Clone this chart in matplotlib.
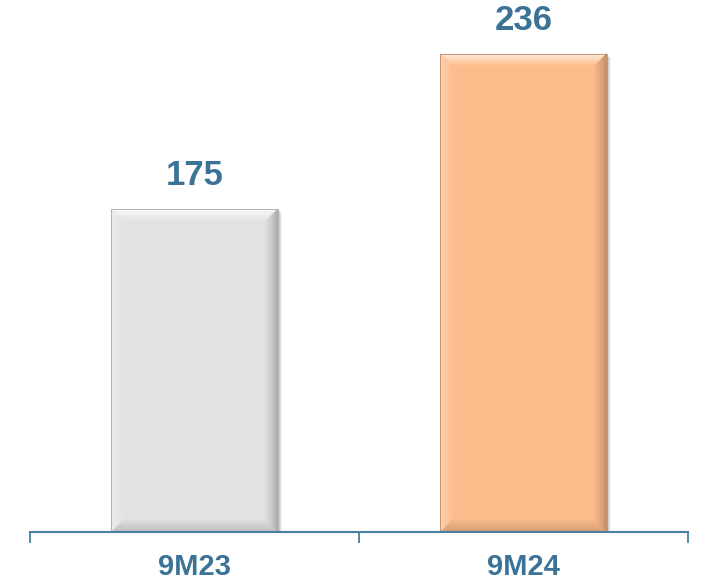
import matplotlib
matplotlib.use("Agg")
import matplotlib.pyplot as plt
from matplotlib.patches import Polygon
import matplotlib.colors as mcolors
import numpy as np

categories = ["9M23", "9M24"]
values = [175, 236]
bar_colors = ["#E3E3E3", "#FDBC8B"]

text_color = "#3B7396"
axis_color = "#4A7FA3"

plt.rcParams['font.family'] = ['Liberation Sans', 'DejaVu Sans']

fig = plt.figure(figsize=(7.08, 5.83), dpi=100)
ax = fig.add_axes([30/708, 51/583, 658/708, 1 - 51/583])
x = np.arange(len(categories))
bars = ax.bar(x, values, width=0.505, color=bar_colors, zorder=2)
ax.set_xlim(-0.5, 1.5)
ax.set_ylim(48.4, 257)

for s in ["top", "left", "right"]:
    ax.spines[s].set_visible(False)
ax.spines["bottom"].set_color(axis_color)
ax.spines["bottom"].set_linewidth(1.5)
ax.spines["bottom"].set_zorder(5)
ax.set_yticks([])
ax.set_xticks([-0.5, 0.5, 1.5])
ax.set_xticklabels([])
ax.tick_params(axis="x", direction="out", length=8, width=1.3, color=axis_color)

fig.canvas.draw()
axbb = ax.get_window_extent()
inv = ax.transData.inverted()
bev = 13

def mix(a, b, t):
    return np.clip(a + (b - a) * t, 0, 1)

for b, c in zip(bars, bar_colors):
    bb = b.get_window_extent()
    x0, x1, y1 = bb.x0, bb.x1, bb.y1
    y0 = max(bb.y0, axbb.y0)
    base = np.array(mcolors.to_rgb(c))
    white = np.ones(3)
    edge_top = mix(base, white, 0.85)
    edge_left = mix(base, white, 0.35)
    edge_right = base * 0.72
    edge_bot = base * 0.84
    # soft shadow
    for k, a in [(4, 0.05), (3, 0.06), (2, 0.08)]:
        sh = Polygon(inv.transform([(x0 + k, y0), (x1 + k, y0), (x1 + k, y1 - k), (x0 + k, y1 - k)]),
                     closed=True, facecolor="#000000", alpha=a, edgecolor="none", zorder=1)
        ax.add_patch(sh)
    n = bev
    for i in range(n):
        t = i / n
        a0, a1 = i, i + 1
        sides = [
            ([(x0 + a0, y1 - a0), (x1 - a0, y1 - a0), (x1 - a1, y1 - a1), (x0 + a1, y1 - a1)], mix(edge_top, base, t ** 0.8)),
            ([(x0 + a0, y1 - a0), (x0 + a1, y1 - a1), (x0 + a1, y0 + a1), (x0 + a0, y0 + a0)], mix(edge_left, base, t)),
            ([(x1 - a0, y1 - a0), (x1 - a0, y0 + a0), (x1 - a1, y0 + a1), (x1 - a1, y1 - a1)], mix(edge_right, base, t ** 0.7)),
            ([(x0 + a0, y0 + a0), (x0 + a1, y0 + a1), (x1 - a1, y0 + a1), (x1 - a0, y0 + a0)], mix(edge_bot, base, t)),
        ]
        for pts, col in sides:
            ax.add_patch(Polygon(inv.transform(pts), closed=True, facecolor=col,
                                 edgecolor=col, linewidth=0.3, zorder=3))
    ax.add_patch(Polygon(inv.transform([(x0, y0), (x0, y1), (x1, y1), (x1, y0)]), closed=True,
                         facecolor="none", edgecolor=tuple(base * 0.75), linewidth=0.6, zorder=4))

for xi, v in zip(x, values):
    ax.annotate(f"{v}", (xi, v), xytext=(0, 12), textcoords="offset points",
                ha="center", va="bottom", fontsize=25, fontweight="bold", color=text_color)

for xi, cat in zip(x, categories):
    ax.text(xi, -0.065, cat, transform=ax.get_xaxis_transform(), ha="center", va="center",
            fontsize=21, fontweight="bold", color=text_color)

fig.savefig("out.png", dpi=100)
